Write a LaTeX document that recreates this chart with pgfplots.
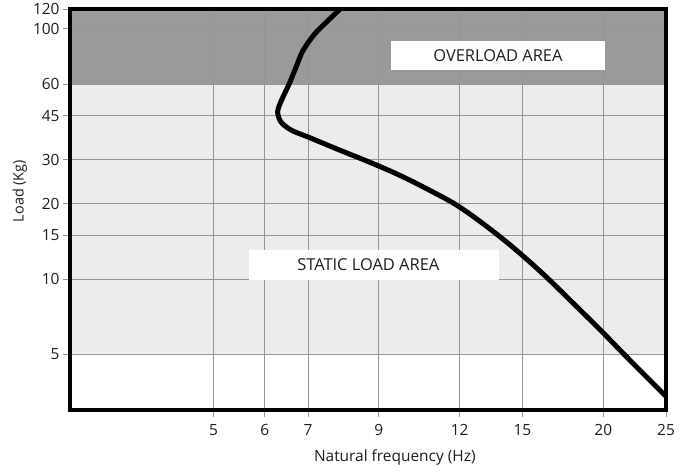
\documentclass[border=0pt]{standalone}
\usepackage{pgfplots}
\pgfplotsset{compat=1.18}
\usepackage{fontspec}
\setmainfont{Open Sans}
\definecolor{darkfill}{RGB}{154,154,154}
\definecolor{lightfill}{RGB}{236,236,236}
\definecolor{gridc}{RGB}{148,148,155}
\definecolor{txt}{RGB}{30,30,30}
\begin{document}
\begin{tikzpicture}
\begin{axis}[
  set layers,
  xmode=log, ymode=log,
  width=596bp, height=401bp, scale only axis,
  xmin=3, xmax=25, ymin=3, ymax=120,
  xtick={5,6,7,9,12,15,20,25},
  xticklabels={5,6,7,9,12,15,20,25},
  ytick={5,10,15,20,30,45,60,100,120},
  yticklabels={5\hspace{7bp},10,15,20,30,45,60,100,120},
  minor xtick={}, minor ytick={},
  grid=major,
  major grid style={gridc, line width=0.9bp},
  tick pos=left, tick align=outside,
  major tick length=7bp,
  tick style={gridc, line width=0.9bp},
  axis line style={line width=3.6bp, black},
  ticklabel style={font=\fontsize{15.5}{18}\selectfont, text=txt},
  xticklabel style={yshift=-4bp},
  xlabel={Natural frequency (Hz)},
  xlabel style={at={(axis description cs:0.545,-0.118)}, anchor=center, font=\fontsize{15.5}{18}\selectfont, text=txt},
  ylabel={Load (Kg)},
  ylabel style={at={(axis description cs:-0.084,0.546)}, anchor=center, font=\fontsize{14.5}{17}\selectfont, text=txt},
]
\addplot[draw=none, fill=lightfill, on layer=axis background] coordinates {(3,5) (25,5) (25,60) (3,60)} -- cycle;
\addplot[draw=none, fill=darkfill, on layer=axis background] coordinates {(3,60) (25,60) (25,120) (3,120)} -- cycle;

\fill[white] (axis cs:9.4,68.6) rectangle (axis cs:20.1,89.5);
\node[font=\fontsize{16.5}{19}\selectfont, text=txt] at (axis cs:13.75,78.4) {OVERLOAD AREA};
\fill[white] (axis cs:5.68,9.9) rectangle (axis cs:13.8,13.1);
\node[font=\fontsize{16.5}{19}\selectfont, text=txt] at (axis cs:8.67,11.4) {STATIC LOAD AREA};

\addplot[line width=5bp, black, smooth, line cap=round] coordinates {
(7.87,121) (7.51,107.7) (7.16,95.2) (6.87,81.7) (6.70,70.0) (6.54,60.1)
(6.36,51.5) (6.28,46.5) (6.36,42.3) (6.6,39.3) (6.99,37.0) (7.78,33.0)
(9.0,28.3) (10.0,25.0) (11.55,20.6) (12.41,18.28)
(13.33,15.95) (14.32,13.77) (15.38,11.75) (16.53,9.90) (18.07,7.90)
(19.78,6.28) (21.63,4.95) (25,3.40)
};
\coordinate (SW) at (rel axis cs:0,0);
\coordinate (NE) at (rel axis cs:1,1);
\end{axis}
\path ([shift={(-70bp,-63bp)}]SW) rectangle ([shift={(26bp,8bp)}]NE);
\end{tikzpicture}
\end{document}
